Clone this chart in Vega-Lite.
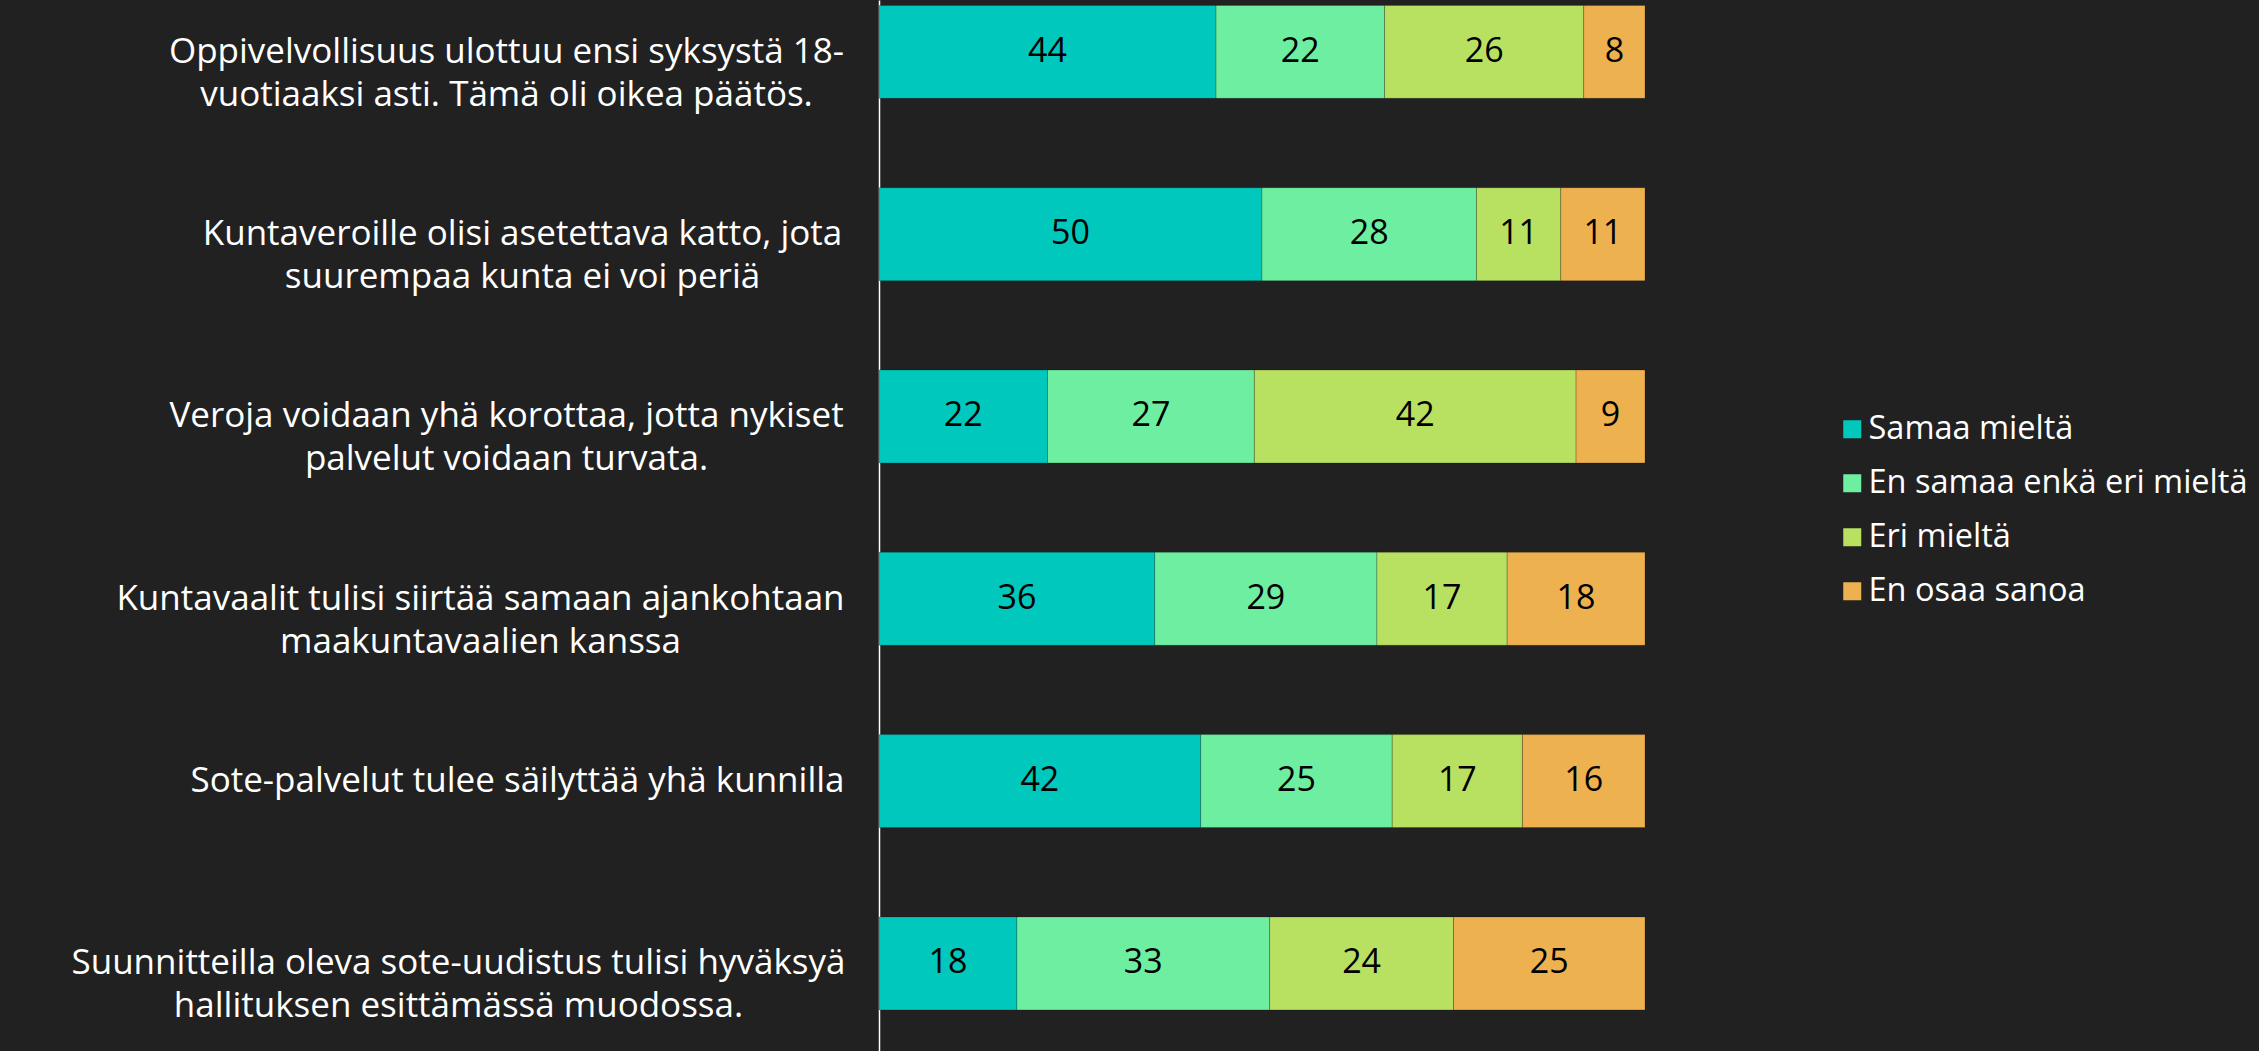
{
  "$schema": "https://vega.github.io/schema/vega-lite/v6.json",
  "autosize": "none",
  "padding": {"left": 879, "top": 0, "right": 614, "bottom": 0},
  "width": 766,
  "height": 1051,
  "background": "#212121",
  "config": {"view": {"stroke": null}, "font": "Open Sans"},
  "data": {"values": [
    {"q": "Oppivelvollisuus ulottuu ensi syksystä 18-|vuotiaaksi asti. Tämä oli oikea päätös.", "k": 1, "cat": "Samaa mieltä", "v": 44},
    {"q": "Oppivelvollisuus ulottuu ensi syksystä 18-|vuotiaaksi asti. Tämä oli oikea päätös.", "k": 2, "cat": "En samaa enkä eri mieltä", "v": 22},
    {"q": "Oppivelvollisuus ulottuu ensi syksystä 18-|vuotiaaksi asti. Tämä oli oikea päätös.", "k": 3, "cat": "Eri mieltä", "v": 26},
    {"q": "Oppivelvollisuus ulottuu ensi syksystä 18-|vuotiaaksi asti. Tämä oli oikea päätös.", "k": 4, "cat": "En osaa sanoa", "v": 8},
    {"q": "Kuntaveroille olisi asetettava katto, jota|suurempaa kunta ei voi periä", "k": 1, "cat": "Samaa mieltä", "v": 50},
    {"q": "Kuntaveroille olisi asetettava katto, jota|suurempaa kunta ei voi periä", "k": 2, "cat": "En samaa enkä eri mieltä", "v": 28},
    {"q": "Kuntaveroille olisi asetettava katto, jota|suurempaa kunta ei voi periä", "k": 3, "cat": "Eri mieltä", "v": 11},
    {"q": "Kuntaveroille olisi asetettava katto, jota|suurempaa kunta ei voi periä", "k": 4, "cat": "En osaa sanoa", "v": 11},
    {"q": "Veroja voidaan yhä korottaa, jotta nykiset|palvelut voidaan turvata.", "k": 1, "cat": "Samaa mieltä", "v": 22},
    {"q": "Veroja voidaan yhä korottaa, jotta nykiset|palvelut voidaan turvata.", "k": 2, "cat": "En samaa enkä eri mieltä", "v": 27},
    {"q": "Veroja voidaan yhä korottaa, jotta nykiset|palvelut voidaan turvata.", "k": 3, "cat": "Eri mieltä", "v": 42},
    {"q": "Veroja voidaan yhä korottaa, jotta nykiset|palvelut voidaan turvata.", "k": 4, "cat": "En osaa sanoa", "v": 9},
    {"q": "Kuntavaalit tulisi siirtää samaan ajankohtaan|maakuntavaalien kanssa", "k": 1, "cat": "Samaa mieltä", "v": 36},
    {"q": "Kuntavaalit tulisi siirtää samaan ajankohtaan|maakuntavaalien kanssa", "k": 2, "cat": "En samaa enkä eri mieltä", "v": 29},
    {"q": "Kuntavaalit tulisi siirtää samaan ajankohtaan|maakuntavaalien kanssa", "k": 3, "cat": "Eri mieltä", "v": 17},
    {"q": "Kuntavaalit tulisi siirtää samaan ajankohtaan|maakuntavaalien kanssa", "k": 4, "cat": "En osaa sanoa", "v": 18},
    {"q": "Sote-palvelut tulee säilyttää yhä kunnilla", "k": 1, "cat": "Samaa mieltä", "v": 42},
    {"q": "Sote-palvelut tulee säilyttää yhä kunnilla", "k": 2, "cat": "En samaa enkä eri mieltä", "v": 25},
    {"q": "Sote-palvelut tulee säilyttää yhä kunnilla", "k": 3, "cat": "Eri mieltä", "v": 17},
    {"q": "Sote-palvelut tulee säilyttää yhä kunnilla", "k": 4, "cat": "En osaa sanoa", "v": 16},
    {"q": "Suunnitteilla oleva sote-uudistus tulisi hyväksyä|hallituksen esittämässä muodossa.", "k": 1, "cat": "Samaa mieltä", "v": 18},
    {"q": "Suunnitteilla oleva sote-uudistus tulisi hyväksyä|hallituksen esittämässä muodossa.", "k": 2, "cat": "En samaa enkä eri mieltä", "v": 33},
    {"q": "Suunnitteilla oleva sote-uudistus tulisi hyväksyä|hallituksen esittämässä muodossa.", "k": 3, "cat": "Eri mieltä", "v": 24},
    {"q": "Suunnitteilla oleva sote-uudistus tulisi hyväksyä|hallituksen esittämässä muodossa.", "k": 4, "cat": "En osaa sanoa", "v": 25}
  ]},
  "encoding": {
    "y": {
      "field": "q", "type": "nominal", "title": null,
      "sort": null,
      "scale": {"paddingInner": 0.49, "paddingOuter": 0.1275, "align": 0.116},
      "axis": {
        "labelExpr": "split(datum.label, '|')",
        "labelFont": "Open Sans",
        "labelFontSize": 35,
        "labelLineHeight": 43,
        "labelColor": "#ffffff",
        "labelAlign": "center",
        "labelBaseline": "middle",
        "labelLimit": 1000,
        "ticks": false,
        "tickSize": 0,
        "domainColor": "#ffffff",
        "domainWidth": 1.5,
        "labelPadding": {
          "condition": [
            {"test": "indexof(datum.value, 'Oppi') == 0", "value": 373},
            {"test": "indexof(datum.value, 'Kuntavero') == 0", "value": 357},
            {"test": "indexof(datum.value, 'Veroja') == 0", "value": 373},
            {"test": "indexof(datum.value, 'Kuntavaa') == 0", "value": 399},
            {"test": "indexof(datum.value, 'Suunn') == 0", "value": 421}
          ],
          "value": 362
        }
      }
    }
  },
  "layer": [
    {
      "mark": {"type": "bar", "stroke": "#000000", "strokeOpacity": 0.2, "strokeWidth": 1},
      "encoding": {
        "x": {"field": "v", "type": "quantitative", "stack": "zero", "scale": {"domain": [0, 100], "nice": false}, "axis": null},
        "order": {"field": "k", "type": "quantitative"},
        "color": {
          "field": "cat", "type": "nominal",
          "scale": {"domain": ["Samaa mieltä", "En samaa enkä eri mieltä", "Eri mieltä", "En osaa sanoa"], "range": ["#00C8BD", "#6EEEA0", "#B8E162", "#EEB150"]},
          "legend": {
            "title": null,
            "orient": "none",
            "legendX": 957,
            "legendY": 413,
            "padding": 0,
            "symbolType": "square",
            "symbolSize": 324,
            "symbolStrokeWidth": 0,
            "labelFont": "Open Sans",
            "labelFontSize": 32.5,
            "labelColor": "#ffffff",
            "labelOffset": 0,
            "labelLimit": 1000,
            "rowPadding": 21
          }
        }
      }
    },
    {
      "mark": {"type": "text", "font": "Open Sans", "fontSize": 34, "color": "#000000", "baseline": "middle", "align": "center"},
      "encoding": {
        "x": {"field": "v", "type": "quantitative", "stack": "zero", "bandPosition": 0.5},
        "order": {"field": "k", "type": "quantitative"},
        "detail": {"field": "cat"},
        "text": {"field": "v", "type": "quantitative"}
      }
    }
  ]
}
